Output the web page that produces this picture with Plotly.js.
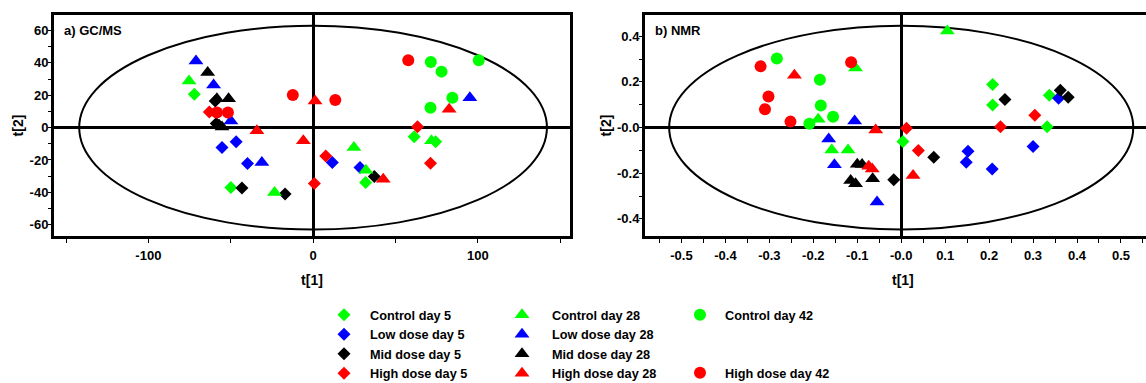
<!DOCTYPE html>
<html><head><meta charset="utf-8">
<script src="https://cdn.plot.ly/plotly-3.0.1.min.js"></script>
<style>html,body{margin:0;padding:0;background:#fff}</style>
</head><body><div id="chart" style="width:1146px;height:383px"></div>
<script>
// ---------- groups ----------
const groupNames = ['Control day 5','Low dose day 5','Mid dose day 5','High dose day 5',
  'Control day 28','Low dose day 28','Mid dose day 28','High dose day 28',
  'Control day 42','High dose day 42'];

// ---------- a) GC/MS scores (t[1], t[2]) ----------
const gcControl5X = [-72.1, -49.9, 61.4, 74.4, 31.9];
const gcControl5Y = [20.6, -37.0, -5.7, -8.8, -33.9];
const gcLow5X = [-46.7, -55.3, -39.8, 11.7, 28.5];
const gcLow5Y = [-8.8, -12.3, -22.2, -21.6, -24.7];
const gcMid5X = [-59.4, -58.8, -43.2, -17.0, 37.2];
const gcMid5Y = [16.5, 2.5, -37.4, -41.1, -30.2];
const gcHigh5X = [-63.0, 63.4, 71.3, 7.7, 0.8];
const gcHigh5Y = [9.7, 0.6, -22.0, -17.5, -34.6];
const gcControl28X = [-75.3, -23.4, 71.9, 24.8, 32.1];
const gcControl28Y = [28.8, -40.1, -8.2, -12.3, -26.3];
const gcLow28X = [-71.1, -60.4, -49.9, -31.1, 95.2];
const gcLow28Y = [41.2, 26.4, 4.1, -21.6, 18.5];
const gcMid28X = [-64.0, -58.4, -51.3, -55.3, -57.0];
const gcMid28Y = [34.0, 17.9, 17.9, 0.4, 1.5];
const gcHigh28X = [-34.1, 1.2, 82.6, -5.9, 42.6];
const gcHigh28Y = [-2.0, 16.5, 11.3, -8.2, -31.9];
const gcControl42X = [71.5, 78.0, 100.6, 84.6, 71.3];
const gcControl42Y = [40.6, 34.6, 41.6, 18.5, 12.3];
const gcHigh42X = [-58.4, -51.7, -12.3, 13.5, 57.8];
const gcHigh42Y = [9.3, 9.3, 20.2, 17.1, 41.6];

// ---------- b) NMR scores (t[1], t[2]) ----------
const nmrControl5X = [0.004, 0.208, 0.208, 0.332, 0.337];
const nmrControl5Y = [-0.061, 0.189, 0.099, 0.003, 0.142];
const nmrLow5X = [0.152, 0.148, 0.207, 0.300, 0.358];
const nmrLow5Y = [-0.104, -0.152, -0.181, -0.083, 0.128];
const nmrMid5X = [-0.017, 0.074, 0.236, 0.362, 0.380];
const nmrMid5Y = [-0.229, -0.130, 0.123, 0.163, 0.133];
const nmrHigh5X = [0.012, 0.039, 0.226, 0.304];
const nmrHigh5Y = [-0.003, -0.101, 0.003, 0.054];
const nmrControl28X = [-0.189, -0.104, 0.105, -0.158, -0.121];
const nmrControl28Y = [0.036, 0.261, 0.423, -0.098, -0.098];
const nmrLow28X = [-0.106, -0.165, -0.152, -0.055];
const nmrLow28Y = [0.029, -0.050, -0.163, -0.326];
const nmrMid28X = [-0.100, -0.089, -0.115, -0.104, -0.065];
const nmrMid28Y = [-0.161, -0.162, -0.232, -0.246, -0.224];
const nmrHigh28X = [-0.243, -0.058, -0.074, -0.066, 0.027];
const nmrHigh28Y = [0.229, -0.011, -0.170, -0.181, -0.210];
const nmrControl42X = [-0.283, -0.185, -0.183, -0.155, -0.209];
const nmrControl42Y = [0.302, 0.209, 0.097, 0.047, 0.017];
const nmrHigh42X = [-0.320, -0.302, -0.310, -0.252, -0.114];
const nmrHigh42Y = [0.268, 0.136, 0.080, 0.026, 0.286];

// Hotelling ellipse semi-axes
const gcEllipse = [142, 63];
const nmrEllipse = [0.528, 0.446];

// ticks
const gcXTicks = [-150, -100, -50, 0, 50, 100, 150];
const gcXLabels = ['', '-100', '', '0', '', '100', ''];
const gcYTicks = [-60, -50, -40, -30, -20, -10, 0, 10, 20, 30, 40, 50, 60];
const gcYLabels = ['-60', '', '-40', '', '-20', '', '0', '', '20', '', '40', '', '60'];
const nmrXTicks = [-0.55, -0.5, -0.45, -0.4, -0.35, -0.3, -0.25, -0.2, -0.15, -0.1, -0.05, 0, 0.05, 0.1, 0.15, 0.2, 0.25, 0.3, 0.35, 0.4, 0.45, 0.5, 0.55];
const nmrXLabels = ['', '-0.5', '', '-0.4', '', '-0.3', '', '-0.2', '', '-0.1', '', '-0.0', '', '0.1', '', '0.2', '', '0.3', '', '0.4', '', '0.5', ''];
const nmrYTicks = [-0.4, -0.3, -0.2, -0.1, 0, 0.1, 0.2, 0.3, 0.4];
const nmrYLabels = ['-0.4', '', '-0.2', '', '-0.0', '', '0.2', '', '0.4'];

// ---------- styles ----------
const GREEN = '#00ff00', BLUE = '#0000ff', BLACK = '#000000', RED = '#ff0000';
const colors = [GREEN, BLUE, BLACK, RED, GREEN, BLUE, BLACK, RED, GREEN, RED];
const symbols = ['diamond','diamond','diamond','diamond','triangle-up','triangle-up','triangle-up','triangle-up','circle','circle'];
const sizes = {'diamond': 10, 'triangle-up': 13, 'circle': 12};
const legendIds = ['legend','legend','legend','legend','legend2','legend2','legend2','legend2','legend3','legend4'];

const gcX = [gcControl5X, gcLow5X, gcMid5X, gcHigh5X, gcControl28X, gcLow28X, gcMid28X, gcHigh28X, gcControl42X, gcHigh42X];
const gcY = [gcControl5Y, gcLow5Y, gcMid5Y, gcHigh5Y, gcControl28Y, gcLow28Y, gcMid28Y, gcHigh28Y, gcControl42Y, gcHigh42Y];
const nmrX = [nmrControl5X, nmrLow5X, nmrMid5X, nmrHigh5X, nmrControl28X, nmrLow28X, nmrMid28X, nmrHigh28X, nmrControl42X, nmrHigh42X];
const nmrY = [nmrControl5Y, nmrLow5Y, nmrMid5Y, nmrHigh5Y, nmrControl28Y, nmrLow28Y, nmrMid28Y, nmrHigh28Y, nmrControl42Y, nmrHigh42Y];

const FONT = 'Liberation Sans, Arial, sans-serif';
const traces = [];
groupNames.forEach((name, i) => {
  const marker = {symbol: symbols[i], color: colors[i], size: sizes[symbols[i]], line: {width: 0}};
  traces.push({type: 'scatter', mode: 'markers', name: name, x: gcX[i], y: gcY[i],
    xaxis: 'x', yaxis: 'y', marker: marker, legend: legendIds[i], showlegend: true, hoverinfo: 'skip'});
  traces.push({type: 'scatter', mode: 'markers', name: name, x: nmrX[i], y: nmrY[i],
    xaxis: 'x2', yaxis: 'y2', marker: marker, showlegend: false, hoverinfo: 'skip'});
});

const W = 1146, H = 383;
const px = v => v / W;
const py = v => (H - v) / H;

function axisBase(isY) {
  return {
    showgrid: false, zeroline: true, zerolinewidth: 3, zerolinecolor: '#000',
    showline: true, linewidth: 3, linecolor: '#000', mirror: true,
    ticks: 'outside', ticklen: isY ? 3 : 4, tickwidth: 1, tickcolor: '#000',
    ticklabelstandoff: isY ? -3 : 1,
    tickmode: 'array', automargin: false, fixedrange: true,
    tickfont: {family: FONT, size: 13, color: '#000', weight: 'bold'},
    title: {font: {family: FONT, size: 14, color: '#000', weight: 'bold'}}
  };
}
const xa = Object.assign(axisBase(false), {domain: [px(54), px(570)], range: [-157.3, 156], anchor: 'y',
  tickvals: gcXTicks, ticktext: gcXLabels});
xa.title.text = 't[1]'; xa.title.standoff = 14;
const ya = Object.assign(axisBase(true), {domain: [py(236), py(15)], range: [-67, 69.6], anchor: 'x',
  tickvals: gcYTicks, ticktext: gcYLabels});
ya.title.text = 't[2]'; ya.title.standoff = 3;
const xb = Object.assign(axisBase(false), {domain: [px(645), 1], range: [-0.583, 0.557], anchor: 'y2',
  tickvals: nmrXTicks, ticktext: nmrXLabels});
const yb = Object.assign(axisBase(true), {domain: [py(236), py(15)], range: [-0.475, 0.493], anchor: 'x2',
  tickvals: nmrYTicks, ticktext: nmrYLabels});
yb.title.text = 't[2]'; yb.title.standoff = 3;

function legendAt(xPix, yPix, itemW) {
  return {x: px(xPix), y: py(yPix), xanchor: 'left', yanchor: 'top', orientation: 'v',
    bgcolor: 'rgba(0,0,0,0)', borderwidth: 0, tracegroupgap: 0, itemwidth: itemW,
    font: {family: FONT, size: 12.7, color: '#000', weight: 'bold'}};
}

const layout = {
  width: W, height: H, margin: {l: 0, r: 0, t: 0, b: 0, autoexpand: false},
  paper_bgcolor: '#fff', plot_bgcolor: '#fff',
  xaxis: xa, yaxis: ya, xaxis2: xb, yaxis2: yb,
  legend: legendAt(318, 300, 42),
  legend2: legendAt(492, 300, 50),
  legend3: legendAt(675, 300, 40),
  legend4: legendAt(675, 358, 40),
  shapes: [
    {type: 'circle', xref: 'x', yref: 'y', x0: -gcEllipse[0], x1: gcEllipse[0], y0: -gcEllipse[1], y1: gcEllipse[1],
      line: {color: '#000', width: 2}, layer: 'below'},
    {type: 'circle', xref: 'x2', yref: 'y2', x0: -nmrEllipse[0], x1: nmrEllipse[0], y0: -nmrEllipse[1], y1: nmrEllipse[1],
      line: {color: '#000', width: 2}, layer: 'below'}
  ],
  annotations: [
    {text: 'a) GC/MS', xref: 'x domain', yref: 'y domain', x: 0.015, y: 0.975, xanchor: 'left', yanchor: 'top',
      showarrow: false, font: {family: FONT, size: 13, color: '#000', weight: 'bold'}},
    {text: 'b) NMR', xref: 'x2 domain', yref: 'y2 domain', x: 0.015, y: 0.975, xanchor: 'left', yanchor: 'top',
      showarrow: false, font: {family: FONT, size: 13, color: '#000', weight: 'bold'}},
    {text: 't[1]', xref: 'paper', yref: 'paper', x: px(903), y: py(280), xanchor: 'center', yanchor: 'middle',
      showarrow: false, font: {family: FONT, size: 14, color: '#000', weight: 'bold'}}
  ],
  showlegend: true
};

Plotly.newPlot('chart', traces, layout, {staticPlot: true, displayModeBar: false});
</script>
</body></html>
